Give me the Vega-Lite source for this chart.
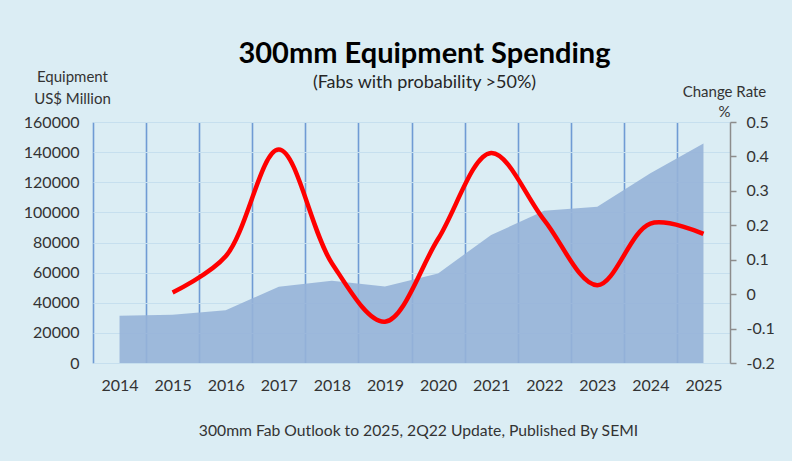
{
  "$schema": "https://vega.github.io/schema/vega-lite/v6.json",
  "autosize": {"type": "none"},
  "width": 637,
  "height": 241,
  "padding": {"left": 93, "top": 122, "right": 62, "bottom": 98},
  "background": "#dbedf4",
  "config": {
    "font": "Lato",
    "view": {"stroke": null},
    "axis": {"labelColor": "#333333", "titleColor": "#333333", "labelFont": "Lato", "titleFont": "Lato", "titleFontWeight": "normal"}
  },
  "title": {
    "text": "300mm Equipment Spending",
    "subtitle": "(Fabs with probability >50%)",
    "fontSize": 29,
    "fontWeight": "bold",
    "color": "#000000",
    "subtitleFontSize": 18,
    "subtitleColor": "#262626",
    "subtitlePadding": 5,
    "anchor": "middle",
    "frame": "group",
    "dx": 13,
    "offset": -23
  },
  "data": {
    "values": [
      {"year": 2014, "spending": 31400, "change": null},
      {"year": 2015, "spending": 32000, "change": 0.005},
      {"year": 2016, "spending": 35000, "change": 0.11},
      {"year": 2017, "spending": 50600, "change": 0.42},
      {"year": 2018, "spending": 54600, "change": 0.09},
      {"year": 2019, "spending": 50800, "change": -0.08},
      {"year": 2020, "spending": 59500, "change": 0.16},
      {"year": 2021, "spending": 85000, "change": 0.41},
      {"year": 2022, "spending": 101000, "change": 0.215},
      {"year": 2023, "spending": 103800, "change": 0.026},
      {"year": 2024, "spending": 126000, "change": 0.205},
      {"year": 2025, "spending": 145800, "change": 0.175}
    ]
  },
  "layer": [
    {
      "mark": {"type": "area", "color": "#96b3d8", "opacity": 0.9},
      "encoding": {
        "x": {
          "field": "year",
          "type": "quantitative",
          "scale": {"domain": [2013.5, 2025.5], "nice": false, "zero": false},
          "axis": {
            "values": [2014, 2015, 2016, 2017, 2018, 2019, 2020, 2021, 2022, 2023, 2024, 2025],
            "format": "d",
            "grid": false,
            "ticks": false,
            "domain": false,
            "labelPadding": 14,
            "labelFontSize": 16,
            "title": "300mm Fab Outlook to 2025, 2Q22 Update, Published By SEMI",
            "titleFontSize": 15.7,
            "titlePadding": 30,
            "titleX": 325,
            "titleAlign": "center"
          }
        },
        "y": {
          "field": "spending",
          "type": "quantitative",
          "scale": {"domain": [0, 160000], "nice": false},
          "axis": {
            "values": [0, 20000, 40000, 60000, 80000, 100000, 120000, 140000, 160000],
            "format": "d",
            "grid": true,
            "gridColor": "#c6dfee",
            "gridWidth": 1,
            "ticks": false,
            "domain": false,
            "labelPadding": 14,
            "labelFontSize": 16,
            "title": ["Equipment", "US$ Million"],
            "titleFontSize": 15,
            "titleAngle": 0,
            "titleAlign": "center",
            "titleBaseline": "top",
            "titleX": -21,
            "titleY": -53,
            "titleLineHeight": 22
          }
        }
      }
    },
    {
      "mark": {"type": "line", "color": "#ff0000", "strokeWidth": 4.5, "interpolate": "catmull-rom"},
      "encoding": {
        "x": {
          "field": "year",
          "type": "quantitative",
          "axis": {
            "orient": "top",
            "values": [2013.5, 2014.5, 2015.5, 2016.5, 2017.5, 2018.5, 2019.5, 2020.5, 2021.5, 2022.5, 2023.5, 2024.5],
            "grid": true,
            "gridColor": "#6f9bd4",
            "gridWidth": 1.6,
            "labels": false,
            "ticks": false,
            "domain": false,
            "title": null
          }
        },
        "y": {
          "field": "change",
          "type": "quantitative",
          "scale": {"domain": [-0.2, 0.5], "nice": false, "zero": false},
          "axis": {
            "orient": "right",
            "values": [-0.2, -0.1, 0, 0.1, 0.2, 0.3, 0.4, 0.5],
            "labelExpr": "datum.value < 0 ? '-' + format(-datum.value, '~g') : format(datum.value, '~g')",
            "grid": false,
            "domain": true,
            "domainColor": "#8c8c8c",
            "domainWidth": 1.5,
            "ticks": true,
            "tickColor": "#8c8c8c",
            "tickWidth": 1.5,
            "tickSize": 6,
            "labelPadding": 10,
            "labelFontSize": 16,
            "title": ["Change Rate", "%"],
            "titleFontSize": 15,
            "titleAngle": 0,
            "titleAlign": "center",
            "titleBaseline": "top",
            "titleX": -6,
            "titleY": -38,
            "titleLineHeight": 20
          }
        }
      }
    }
  ],
  "resolve": {"scale": {"y": "independent"}, "axis": {"x": "independent"}}
}
